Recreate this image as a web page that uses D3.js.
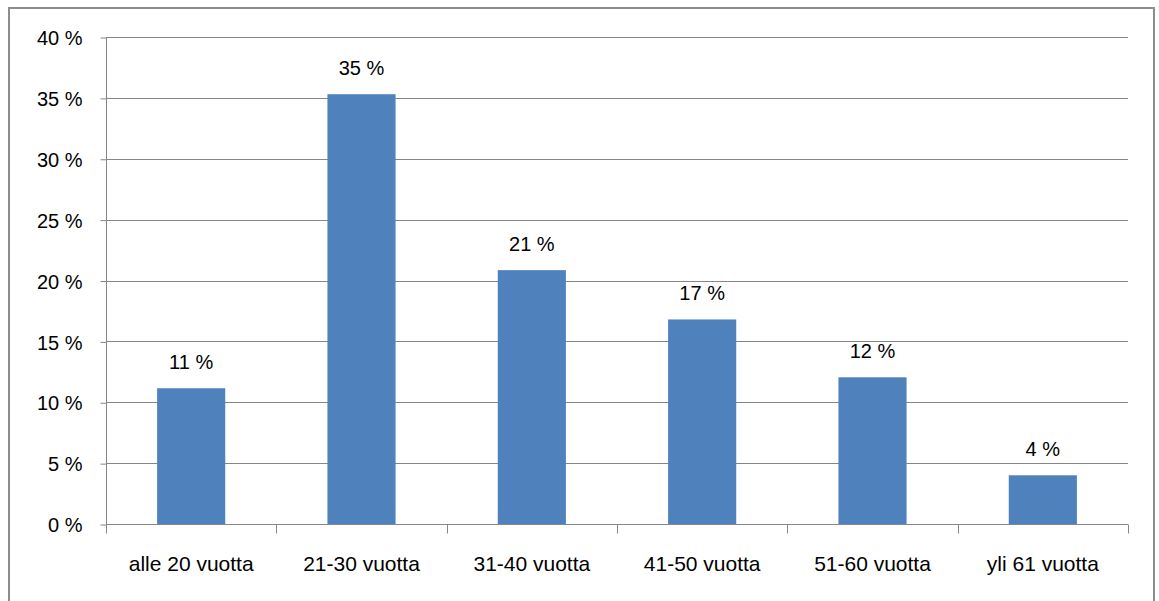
<!DOCTYPE html>
<html><head><meta charset="utf-8">
<script src="https://cdn.jsdelivr.net/npm/d3@7"></script>
<style>
html,body{margin:0;padding:0;background:#fff;}
svg{display:block;}
text{font-family:"Liberation Sans",Arial,sans-serif;fill:#000;}
</style></head><body>
<svg id="chart" width="1159" height="601"></svg>
<script>
const categories = ["alle 20 vuotta","21-30 vuotta","31-40 vuotta","41-50 vuotta","51-60 vuotta","yli 61 vuotta"];
const values = [11.15, 35.3, 20.85, 16.8, 12.05, 4.0];
const valueLabels = ["11 %","35 %","21 %","17 %","12 %","4 %"];
const yTicks = [0,5,10,15,20,25,30,35,40];
const yTickLabels = ["0 %","5 %","10 %","15 %","20 %","25 %","30 %","35 %","40 %"];

(function(){
const svg = d3.select("#chart");
const pLeft = 106, pRight = 1128, pTop = 37, pBottom = 524;

// outer border
svg.append("rect").attr("x",9).attr("y",8).attr("width",1145).attr("height",610)
  .attr("fill","none").attr("stroke","#8c8c8c").attr("stroke-width",2);

const x = d3.scaleBand().domain(categories).range([pLeft,pRight]).paddingInner(0).paddingOuter(0);
const y = d3.scaleLinear().domain([0,40]).range([pBottom,pTop]);

// gridlines
svg.append("g").selectAll("line").data(yTicks.filter(d=>d>0)).join("line")
  .attr("x1",pLeft).attr("x2",pRight).attr("y1",d=>Math.round(y(d))+0.5).attr("y2",d=>Math.round(y(d))+0.5)
  .attr("stroke","#868686").attr("stroke-width",1);

// bars
const bw = x.bandwidth()*0.4;
svg.append("g").selectAll("rect").data(categories).join("rect")
  .attr("x",(d)=>x(d)+x.bandwidth()/2-bw/2)
  .attr("y",(d,i)=>y(values[i]))
  .attr("width",bw)
  .attr("height",(d,i)=>pBottom-y(values[i]))
  .attr("fill","#4F81BD");

// y axis
const yAxis = d3.axisLeft(y).tickValues(yTicks).tickFormat((d,i)=>yTickLabels[i]).tickSize(6).tickPadding(18);
const gy = svg.append("g").attr("transform",`translate(${pLeft+0.5},0.5)`).call(yAxis);
gy.select(".domain").attr("stroke","#868686").attr("d",`M0,${pTop}V${pBottom}`);
gy.selectAll(".tick line").attr("stroke","#868686");
gy.selectAll(".tick text").attr("font-size","20px").attr("font-family","Liberation Sans, Arial, sans-serif").attr("fill","#000").attr("dy","0.36em");

// x axis
const xAxis = d3.axisBottom(x).tickSize(0).tickPadding(0).tickFormat(d=>d);
const gx = svg.append("g").attr("transform",`translate(0,${pBottom+0.5})`).call(xAxis);
gx.select(".domain").attr("stroke","#868686").attr("d",`M${pLeft},0H${pRight}`);
gx.selectAll(".tick text").attr("font-size","21px").attr("font-family","Liberation Sans, Arial, sans-serif").attr("fill","#000")
  .attr("dy",0).attr("y",46);
// category boundary ticks
const bounds = categories.map(c=>x(c)).concat([pRight]);
gx.append("g").selectAll("line").data(bounds).join("line")
  .attr("x1",d=>Math.round(d)+0.5).attr("x2",d=>Math.round(d)+0.5).attr("y1",0).attr("y2",9)
  .attr("stroke","#868686");

// data labels
svg.append("g").selectAll("text").data(categories).join("text")
  .attr("x",d=>x(d)+x.bandwidth()/2)
  .attr("y",(d,i)=>y(values[i])-19)
  .attr("text-anchor","middle").attr("font-size","20px")
  .text((d,i)=>valueLabels[i]);
})();
</script>
</body></html>
